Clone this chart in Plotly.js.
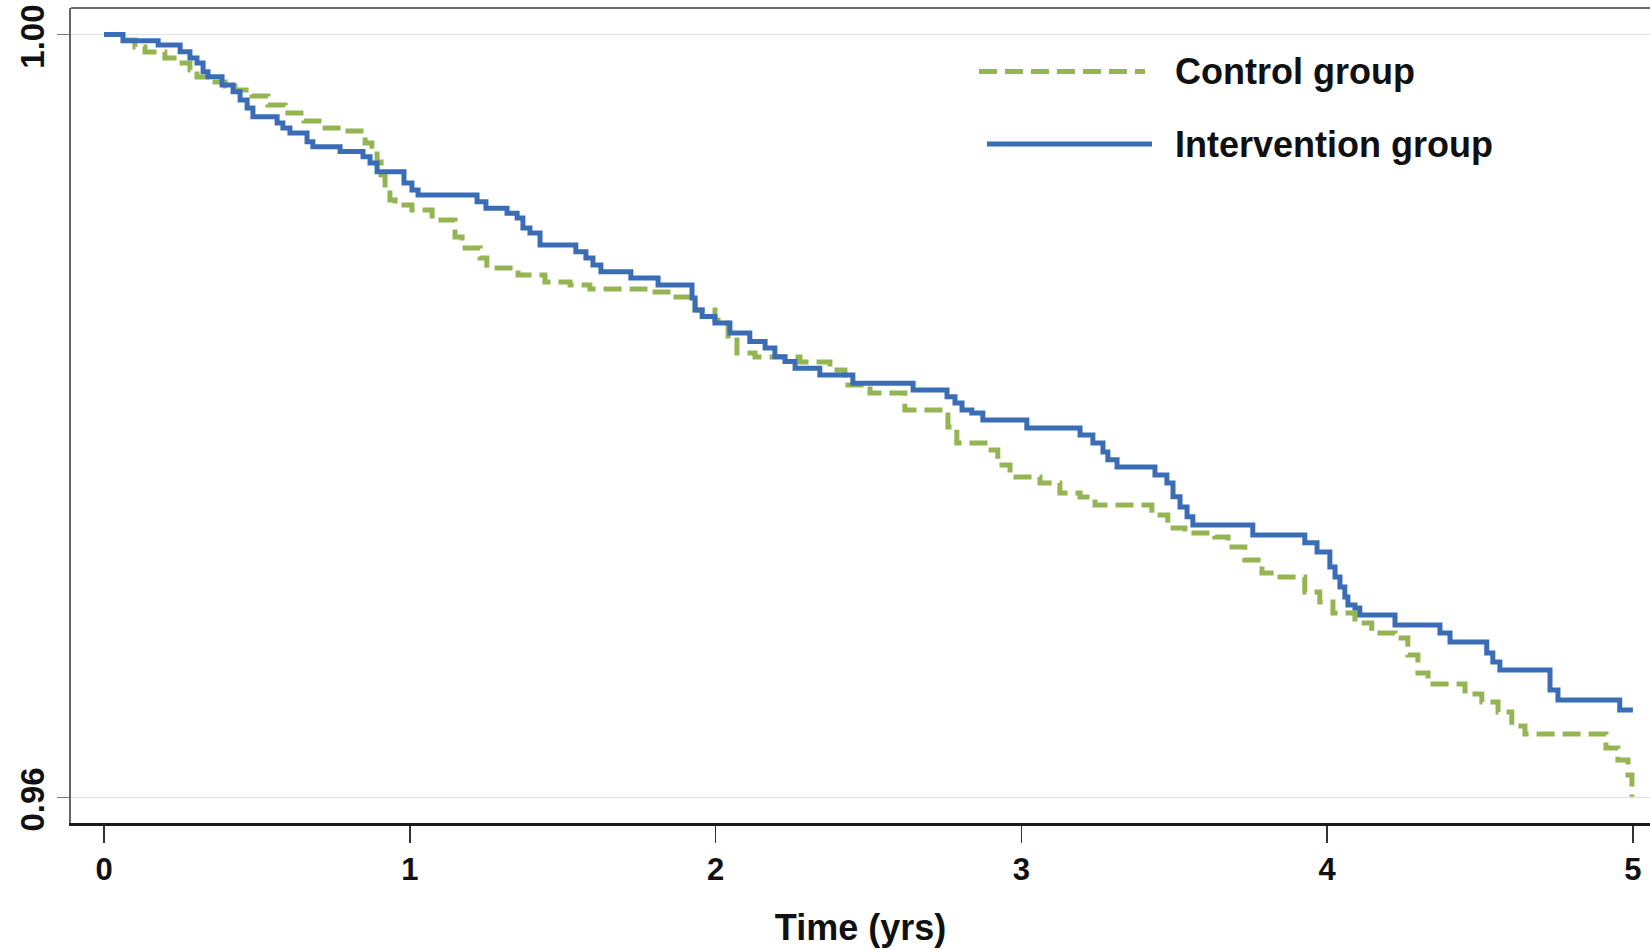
<!DOCTYPE html>
<html>
<head>
<meta charset="utf-8">
<script src="https://cdn.plot.ly/plotly-3.0.1.min.js"></script>
<style>
  html, body { margin: 0; padding: 0; background: #ffffff; }
  #chart { width: 1650px; height: 950px; }
</style>
</head>
<body>
<div id="chart"></div>
<script>
// ---- Data ----
const controlTime = [0, 0.052, 0.101, 0.134, 0.199, 0.242, 0.281, 0.304, 0.347, 0.396, 0.428, 0.484, 0.536, 0.592, 0.654, 0.723, 0.788, 0.854, 0.876, 0.893, 0.906, 0.919, 0.935, 0.952, 1.007, 1.073, 1.148, 1.171, 1.230, 1.252, 1.354, 1.442, 1.524, 1.589, 1.769, 1.857, 1.933, 1.998, 2.041, 2.070, 2.129, 2.276, 2.374, 2.423, 2.505, 2.619, 2.760, 2.789, 2.881, 2.923, 2.963, 3.061, 3.126, 3.192, 3.241, 3.427, 3.479, 3.535, 3.633, 3.676, 3.731, 3.787, 3.846, 3.927, 3.976, 4.019, 4.091, 4.146, 4.222, 4.264, 4.297, 4.330, 4.451, 4.506, 4.559, 4.604, 4.647, 4.912, 4.951, 4.984, 4.997];
const controlSurv = [1.0, 0.99971, 0.99934, 0.99908, 0.99877, 0.99851, 0.99814, 0.99777, 0.99751, 0.99730, 0.99709, 0.99678, 0.99630, 0.99588, 0.99546, 0.99510, 0.99494, 0.99431, 0.99394, 0.99332, 0.99263, 0.99185, 0.99132, 0.99106, 0.99080, 0.99027, 0.98938, 0.98881, 0.98828, 0.98776, 0.98739, 0.98702, 0.98687, 0.98666, 0.98650, 0.98624, 0.98556, 0.98503, 0.98398, 0.98330, 0.98309, 0.98283, 0.98241, 0.98162, 0.98120, 0.98031, 0.97942, 0.97858, 0.97822, 0.97743, 0.97680, 0.97649, 0.97596, 0.97575, 0.97533, 0.97481, 0.97413, 0.97386, 0.97365, 0.97313, 0.97245, 0.97177, 0.97156, 0.97077, 0.97025, 0.96967, 0.96915, 0.96862, 0.96836, 0.96747, 0.96652, 0.96595, 0.96542, 0.96500, 0.96448, 0.96374, 0.96333, 0.96259, 0.96196, 0.96118, 0.96003];

const interventionTime = [0, 0.062, 0.177, 0.249, 0.281, 0.304, 0.324, 0.340, 0.386, 0.422, 0.445, 0.468, 0.487, 0.566, 0.585, 0.608, 0.664, 0.683, 0.772, 0.847, 0.870, 0.893, 0.981, 1.007, 1.027, 1.220, 1.249, 1.318, 1.351, 1.370, 1.393, 1.426, 1.543, 1.576, 1.599, 1.625, 1.723, 1.812, 1.923, 1.933, 1.956, 1.998, 2.047, 2.112, 2.162, 2.194, 2.227, 2.260, 2.341, 2.449, 2.646, 2.757, 2.783, 2.806, 2.838, 2.874, 3.018, 3.192, 3.234, 3.267, 3.283, 3.313, 3.437, 3.476, 3.496, 3.519, 3.542, 3.561, 3.757, 3.927, 3.967, 4.009, 4.026, 4.042, 4.058, 4.068, 4.091, 4.107, 4.222, 4.369, 4.402, 4.522, 4.542, 4.565, 4.729, 4.755, 4.957, 5.000];
const interventionSurv = [1.0, 0.99967, 0.99945, 0.99910, 0.99877, 0.99851, 0.99805, 0.99779, 0.99735, 0.99700, 0.99657, 0.99615, 0.99569, 0.99536, 0.99510, 0.99484, 0.99438, 0.99412, 0.99386, 0.99359, 0.99326, 0.99281, 0.99221, 0.99185, 0.99159, 0.99123, 0.99089, 0.99063, 0.99038, 0.98986, 0.98959, 0.98896, 0.98861, 0.98828, 0.98792, 0.98756, 0.98723, 0.98687, 0.98619, 0.98556, 0.98521, 0.98488, 0.98435, 0.98390, 0.98356, 0.98311, 0.98285, 0.98250, 0.98215, 0.98171, 0.98136, 0.98101, 0.98068, 0.98031, 0.98016, 0.97979, 0.97937, 0.97900, 0.97858, 0.97811, 0.97770, 0.97733, 0.97691, 0.97649, 0.97576, 0.97523, 0.97471, 0.97429, 0.97376, 0.97335, 0.97287, 0.97208, 0.97156, 0.97103, 0.97051, 0.97009, 0.96993, 0.96956, 0.96904, 0.96862, 0.96815, 0.96757, 0.96710, 0.96668, 0.96563, 0.96511, 0.96458, 0.96458];

const seriesNames = ['Control group', 'Intervention group'];
const xTickVals = [0, 1, 2, 3, 4, 5];
const xTickText = ['0', '1', '2', '3', '4', '5'];
const yTickVals = [0.96, 1.00];
const yTickText = ['0.96', '1.00'];
const xTitle = 'Time (yrs)';

// ---- Styles ----
const GREEN = '#94B552';
const BLUE = '#3A6DB5';
const FONT = 'Liberation Sans, Arial, Helvetica, sans-serif';

const traces = [
  {
    x: controlTime, y: controlSurv, type: 'scatter', mode: 'lines',
    name: seriesNames[0],
    line: { shape: 'hv', color: GREEN, width: 5, dash: '18px,8px' },
    hoverinfo: 'skip'
  },
  {
    x: interventionTime, y: interventionSurv, type: 'scatter', mode: 'lines',
    name: seriesNames[1],
    line: { shape: 'hv', color: BLUE, width: 5 },
    hoverinfo: 'skip'
  }
];

const legendRows = [
  { y: 0.9221, x0: 0.5750, x1: 0.6802, color: GREEN, dash: '18px,8px', label: seriesNames[0] },
  { y: 0.8331, x0: 0.5801, x1: 0.6846, color: BLUE, dash: 'solid', label: seriesNames[1] }
];

const shapes = [
  // top frame line
  { type: 'line', xref: 'paper', yref: 'paper', x0: 0, x1: 1, y0: 1, y1: 1,
    line: { color: '#6a6a6a', width: 2 } }
];
const annotations = [];
legendRows.forEach(r => {
  shapes.push({ type: 'line', xref: 'paper', yref: 'paper', x0: r.x0, x1: r.x1, y0: r.y, y1: r.y,
    line: { color: r.color, width: 5, dash: r.dash } });
  annotations.push({ xref: 'paper', yref: 'paper', x: 0.6979, y: r.y, xanchor: 'left', yanchor: 'middle',
    text: r.label, showarrow: false,
    font: { family: FONT, size: 36, color: '#111111', weight: 'bold' } });
});

const layout = {
  width: 1650, height: 950,
  paper_bgcolor: '#ffffff', plot_bgcolor: '#ffffff',
  margin: { l: 71, r: 0, t: 8, b: 127, pad: 0 },
  showlegend: false,
  font: { family: FONT, color: '#111111' },
  xaxis: {
    range: [-0.108, 5.056],
    tickvals: xTickVals, ticktext: xTickText,
    ticks: 'outside', ticklen: 17, tickwidth: 1.5, tickcolor: '#333333',
    showline: true, linewidth: 3, linecolor: '#1a1a1a',
    showgrid: false, zeroline: false,
    ticklabeloverflow: 'allow',
    tickfont: { family: FONT, size: 31, color: '#111111', weight: 'bold' },
    title: { text: xTitle, standoff: 29,
      font: { family: FONT, size: 36, color: '#111111', weight: 'bold' } }
  },
  yaxis: {
    range: [0.95866, 1.00139],
    tickvals: yTickVals, ticktext: yTickText, tickangle: -90,
    ticks: 'outside', ticklen: 12, tickwidth: 1.5, tickcolor: '#777777',
    showline: true, linewidth: 2, linecolor: '#666666',
    showgrid: true, gridcolor: '#e2e2e2', gridwidth: 1.5,
    zeroline: false,
    ticklabeloverflow: 'allow',
    ticklabelshift: 7,
    tickfont: { family: FONT, size: 33, color: '#111111', weight: 'bold' }
  },
  shapes: shapes,
  annotations: annotations
};

Plotly.newPlot('chart', traces, layout, { staticPlot: true, displayModeBar: false });
</script>
</body>
</html>
